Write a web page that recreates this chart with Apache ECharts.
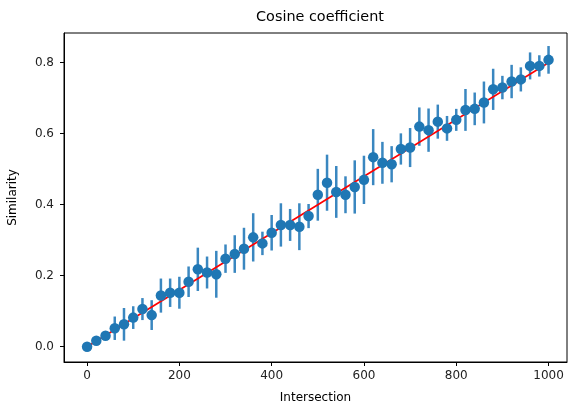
<!DOCTYPE html>
<html>
<head>
<meta charset="utf-8">
<script src="https://cdn.jsdelivr.net/npm/echarts@6/dist/echarts.min.js"></script>
<style>html,body{margin:0;padding:0;background:#fff}#c{width:570px;height:406px}</style>
</head>
<body>
<div id="c"></div>
<script>
var xValues = [0,20,40,60,80,100,120,140,160,180,200,220,240,260,280,300,320,340,360,380,400,420,440,460,480,500,520,540,560,580,600,620,640,660,680,700,720,740,760,780,800,820,840,860,880,900,920,940,960,980,1000];
var yValues = [0.000,0.017,0.031,0.052,0.063,0.082,0.106,0.089,0.144,0.152,0.152,0.183,0.218,0.209,0.204,0.248,0.261,0.276,0.308,0.291,0.321,0.343,0.343,0.338,0.368,0.428,0.462,0.436,0.428,0.450,0.470,0.534,0.518,0.514,0.557,0.561,0.620,0.610,0.634,0.615,0.639,0.667,0.670,0.688,0.725,0.730,0.747,0.753,0.791,0.791,0.808];
var yErrors = [0.003,0.006,0.008,0.033,0.046,0.032,0.031,0.042,0.048,0.040,0.045,0.043,0.061,0.045,0.066,0.040,0.053,0.059,0.068,0.033,0.050,0.061,0.045,0.066,0.034,0.073,0.079,0.073,0.052,0.075,0.068,0.079,0.059,0.051,0.044,0.055,0.054,0.061,0.048,0.035,0.031,0.059,0.046,0.059,0.058,0.033,0.047,0.034,0.038,0.030,0.039];
var fitLine = [[0,0],[1000,0.8]];
var xTicks = [0,200,400,600,800,1000];
var yTicks = [0,0.2,0.4,0.6,0.8];

var points = xValues.map(function(x,i){return [x,yValues[i]];});
var errData = xValues.map(function(x,i){return [x,yValues[i]-yErrors[i],yValues[i]+yErrors[i]];});

var font = 'DejaVu Sans';
var chart = echarts.init(document.getElementById('c'), null, {renderer:'canvas'});
chart.setOption({
  animation:false,
  backgroundColor:'#fff',
  title:{text:'Cosine coefficient',left:315,top:5,textAlign:'center',
    textStyle:{fontFamily:font,fontSize:14.4,fontWeight:'normal',color:'#000'}},
  grid:{left:64,right:3,top:33,bottom:44,show:true,borderColor:'#000',borderWidth:1,backgroundColor:'transparent',
    containLabel:false,outerBoundsMode:'none'},
  xAxis:{type:'value',min:-50,max:1040,
    name:'Intersection',nameLocation:'middle',nameGap:30,
    nameTextStyle:{fontFamily:font,fontSize:12,color:'#000'},
    axisLine:{show:true,onZero:false,lineStyle:{color:'#000',width:1}},
    axisTick:{show:true,customValues:xTicks,length:4,lineStyle:{color:'#000'}},
    axisLabel:{customValues:xTicks,fontFamily:font,fontSize:12,color:'#222',margin:8,
      formatter:function(v){return String(v);}},
    splitLine:{show:false}},
  yAxis:{type:'value',min:-0.0431,max:0.8837,
    name:'Similarity',nameLocation:'middle',nameGap:45,
    nameTextStyle:{fontFamily:font,fontSize:12,color:'#000'},
    axisLine:{show:true,onZero:false,lineStyle:{color:'#000',width:1}},
    axisTick:{show:true,customValues:yTicks,length:4,lineStyle:{color:'#000'}},
    axisLabel:{customValues:yTicks,fontFamily:font,fontSize:12,color:'#222',margin:10,
      formatter:function(v){return v.toFixed(1);}},
    splitLine:{show:false}},
  series:[
    {type:'custom',data:errData,z:1,
      renderItem:function(params,api){
        var p1=api.coord([api.value(0),api.value(1)]);
        var p2=api.coord([api.value(0),api.value(2)]);
        return {type:'line',shape:{x1:p1[0],y1:p1[1],x2:p2[0],y2:p2[1]},
          style:{stroke:'#3a87c0',lineWidth:2.5}};
      },
      encode:{x:0,y:[1,2]}},
    {type:'line',data:fitLine,z:2,symbol:'none',lineStyle:{color:'#ff0000',width:1.6}},
    {type:'scatter',data:points,z:3,symbol:'circle',symbolSize:10.5,clip:false,
      itemStyle:{color:'#1f77b4',opacity:1}}
  ]
});
</script>
</body>
</html>
